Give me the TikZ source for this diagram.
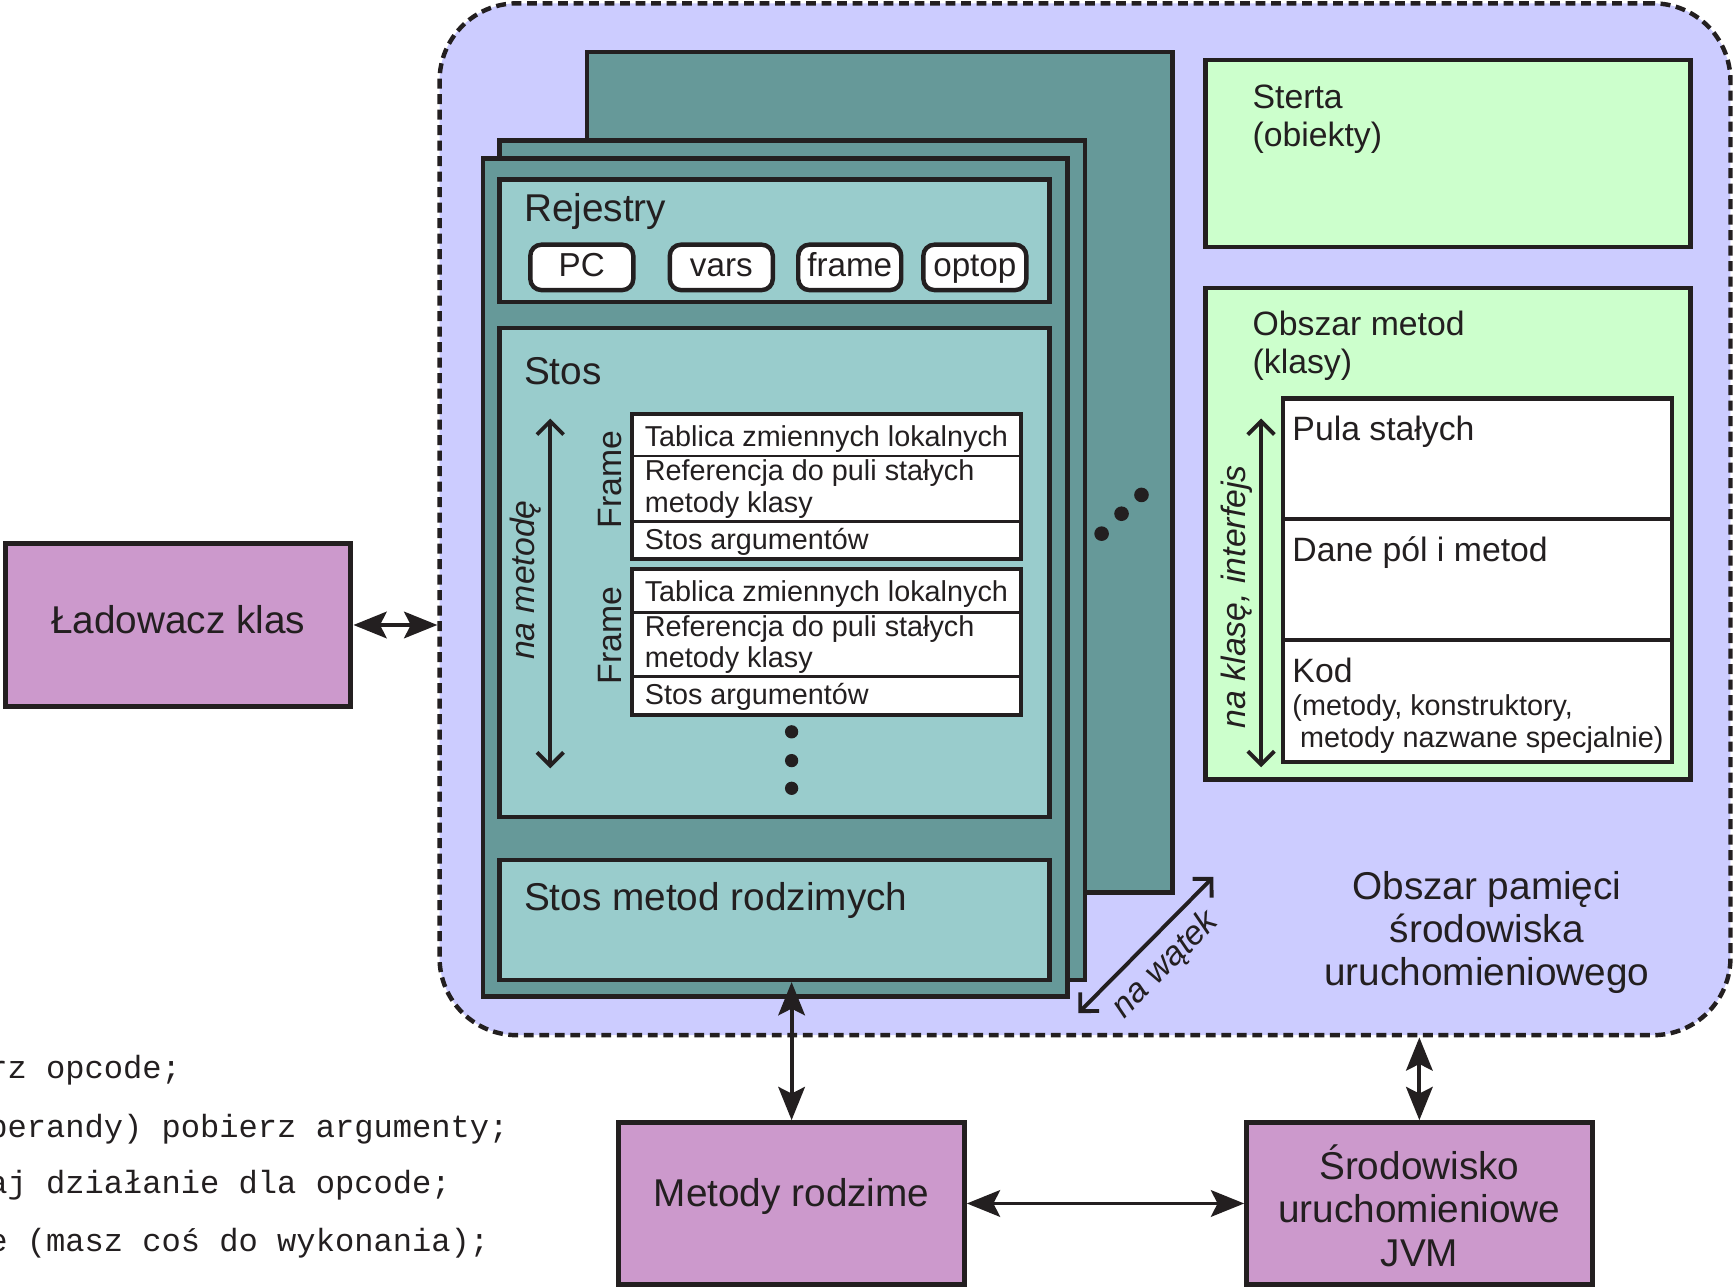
\documentclass[tikz,border=0pt]{standalone}
\usepackage{fontspec}
\setmainfont{Liberation Sans}
\newfontfamily\codefont{Liberation Mono}
\usetikzlibrary{arrows.meta,fit}

\definecolor{ink}{HTML}{231F20}
\definecolor{areaC}{HTML}{CCCCFF}
\definecolor{tealD}{HTML}{669999}
\definecolor{tealL}{HTML}{99CCCC}
\definecolor{greenC}{HTML}{CCFFCC}
\definecolor{purpleC}{HTML}{CC99CC}

\newcommand\FontBig{\fontsize{17.5}{19.5}\selectfont}
\newcommand\FontMed{\fontsize{15.25}{17.5}\selectfont}
\newcommand\FontReg{\fontsize{15}{17}\selectfont}
\newcommand\FontRow{\fontsize{13}{15}\selectfont}
\newcommand\FontCode{\fontsize{14.5}{17}\selectfont}

\begin{document}
\begin{tikzpicture}[x=0.5pt, y=-0.5pt,
  every node/.style={text=ink},
  panel/.style={draw=ink, line width=2pt, inner sep=0pt},
  pill/.style={draw=ink, line width=2pt, fill=white, rounded corners=5pt,
    inner sep=0pt, minimum width=46.5pt, minimum height=20.5pt,
    text height=11pt, text depth=3pt, font=\FontReg},
  slotbox/.style={draw=ink, line width=1.6pt, fill=white, inner sep=0pt},
  rowsep/.style={draw=ink, line width=1.2pt},
  lbl/.style={anchor=base west, inner sep=0pt},
  conn/.style={draw=ink, line width=1.75pt,
    arrows={Stealth[length=15pt,width=12pt,inset=3pt]-Stealth[length=15pt,width=12pt,inset=3pt]}},
  span/.style={draw=ink, line width=1.75pt,
    arrows={Straight Barb[length=6pt,width=12pt]-Straight Barb[length=6pt,width=12pt]}},
  dot/.style={fill=ink},
]
\useasboundingbox (0,0) rectangle (1568,1162);

% runtime data area
\node[panel, fill=areaC, line width=2pt, dash pattern=on 4.5pt off 2.5pt,
      rounded corners=35pt, fit={(397,3)(1563,935)}] (area) {};

% per-thread stack of register/stack panels
\node[panel, fill=tealD, fit={(530,47)(1059,806)}] (threadC) {};
\node[panel, fill=tealD, fit={(451,127)(980,885)}] (threadB) {};
\node[panel, fill=tealD, fit={(436,143)(964,900)}] (threadA) {};

% registers
\node[panel, fill=tealL, fit={(451,162)(948,273)}] (regs) {};
\node[lbl, font=\FontBig] (regsT) at (473,200) {Rejestry};
\node[pill] (pc) at (525.5,241.5) {PC};
\node[pill] (vars) at (651.5,241.5) {vars};
\node[pill] (frm) at (767.5,241.5) {frame};
\node[pill] (optop) at (880.5,241.5) {optop};

% Java stack
\node[panel, fill=tealL, fit={(451,296)(948,738)}] (stack) {};
\node[lbl, font=\FontBig] (stackT) at (473,347) {Stos};

\node[slotbox, fit={(571,374)(922,505)}] (fa) {};
\draw[rowsep] (571,412) -- (922,412);
\draw[rowsep] (571,471) -- (922,471);
\node[lbl, font=\FontRow] (fa1) at (582,403) {Tablica zmiennych lokalnych};
\node[lbl, font=\FontRow] (fa2) at (582,434) {Referencja do puli stałych};
\node[lbl, font=\FontRow] (fa3) at (582,463) {metody klasy};
\node[lbl, font=\FontRow] (fa4) at (582,496) {Stos argumentów};
\node[rotate=90, font=\FontMed] (faT) at (551,433) {Frame};

\node[slotbox, fit={(571,514)(922,646)}] (fb) {};
\draw[rowsep] (571,553) -- (922,553);
\draw[rowsep] (571,611) -- (922,611);
\node[lbl, font=\FontRow] (fb1) at (582,543) {Tablica zmiennych lokalnych};
\node[lbl, font=\FontRow] (fb2) at (582,575) {Referencja do puli stałych};
\node[lbl, font=\FontRow] (fb3) at (582,603) {metody klasy};
\node[lbl, font=\FontRow] (fb4) at (582,636) {Stos argumentów};
\node[rotate=90, font=\FontMed] (fbT) at (551,574) {Frame};

\fill[dot] (715,661) circle (3pt);
\fill[dot] (715,687) circle (3pt);
\fill[dot] (715,712) circle (3pt);

\coordinate (mTop) at (497,378);
\coordinate (mBot) at (497,694);
\draw[span] (mTop) -- (mBot);
\node[rotate=90, font=\FontMed\itshape] (mT) at (475,524) {na metodę};

% native method stack
\node[panel, fill=tealL, fit={(451,777)(948,885)}] (nmstack) {};
\node[lbl, font=\FontBig] (nmstackT) at (473,822) {Stos metod rodzimych};

% more threads
\fill[dot] (995,482) circle (3.3pt);
\fill[dot] (1013,464) circle (3.3pt);
\fill[dot] (1031,447) circle (3.3pt);

\coordinate (tLow) at (974,915);
\coordinate (tHigh) at (1096,792);
\draw[span] (tLow) -- (tHigh) node[midway, sloped, below=1.5pt, font=\FontMed\itshape] (tT) {na wątek};

% heap
\node[panel, fill=greenC, fit={(1089,54)(1527,223)}] (heap) {};
\node[lbl, font=\FontMed] (heapT1) at (1131,98) {Sterta};
\node[lbl, font=\FontMed] (heapT2) at (1131,132) {(obiekty)};

% method area
\node[panel, fill=greenC, fit={(1089,260)(1527,704)}] (marea) {};
\node[lbl, font=\FontMed] (mareaT1) at (1131,303) {Obszar metod};
\node[lbl, font=\FontMed] (mareaT2) at (1131,337) {(klasy)};
\node[slotbox, line width=2pt, fit={(1159,360)(1510,688)}] (cls) {};
\draw[rowsep, line width=1.75pt] (1159,469) -- (1510,469);
\draw[rowsep, line width=1.75pt] (1159,578) -- (1510,578);
\node[lbl, font=\FontMed] (cls1) at (1167,398) {Pula stałych};
\node[lbl, font=\FontMed] (cls2) at (1167,507) {Dane pól i metod};
\node[lbl, font=\FontMed] (cls3) at (1167,616) {Kod};
\node[lbl, font=\FontRow] (cls4) at (1167,646) {(metody, konstruktory,};
\node[lbl, font=\FontRow] (cls5) at (1174,675) {metody nazwane specjalnie)};

\coordinate (kTop) at (1139,378);
\coordinate (kBot) at (1139,693);
\draw[span] (kTop) -- (kBot);
\node[rotate=90, font=\FontMed\itshape] (kT) at (1117,539) {na klasę, interfejs};

\node[font=\fontsize{17.5}{19.5}\selectfont, align=center] (areaT) at (1343,842)
  {Obszar pamięci\\środowiska\\uruchomieniowego};

% external components
\node[panel, fill=purpleC, line width=2.25pt, fit={(5,491)(317,638)}] (loader) {};
\node[font=\FontBig] (loaderT) at (161,560) {Ładowacz klas};

\node[panel, fill=purpleC, line width=2.25pt, fit={(559,1014)(871,1160)}] (native) {};
\node[font=\FontBig] (nativeT) at (715,1081) {Metody rodzime};

\node[panel, fill=purpleC, line width=2.25pt, fit={(1126,1014)(1438,1160)}] (jvm) {};
\node[font=\fontsize{17.5}{19.75}\selectfont, align=center] (jvmT) at (1282,1089)
  {Środowisko\\uruchomieniowe\\JVM};

% interpreter loop excerpt
\begin{scope}
\clip (0,0) rectangle (1568,1162);
\node[lbl, font=\codefont\FontCode] (code1) at (-11,974) {rz opcode;};
\node[lbl, font=\codefont\FontCode] (code2) at (-11,1027) {perandy) pobierz argumenty;};
\node[lbl, font=\codefont\FontCode] (code3) at (-11,1078) {aj działanie dla opcode;};
\node[lbl, font=\codefont\FontCode] (code4) at (-11,1130) {e (masz coś do wykonania);};
\end{scope}

% connectors
\draw[conn] (loader.east) -- (loader.east -| area.west);
\draw[conn] (native.north) -- (native.north |- nmstack.south);
\draw[conn] (jvm.north) -- (jvm.north |- area.south);
\draw[conn] (native.east) -- (jvm.west);
\end{tikzpicture}
\end{document}
